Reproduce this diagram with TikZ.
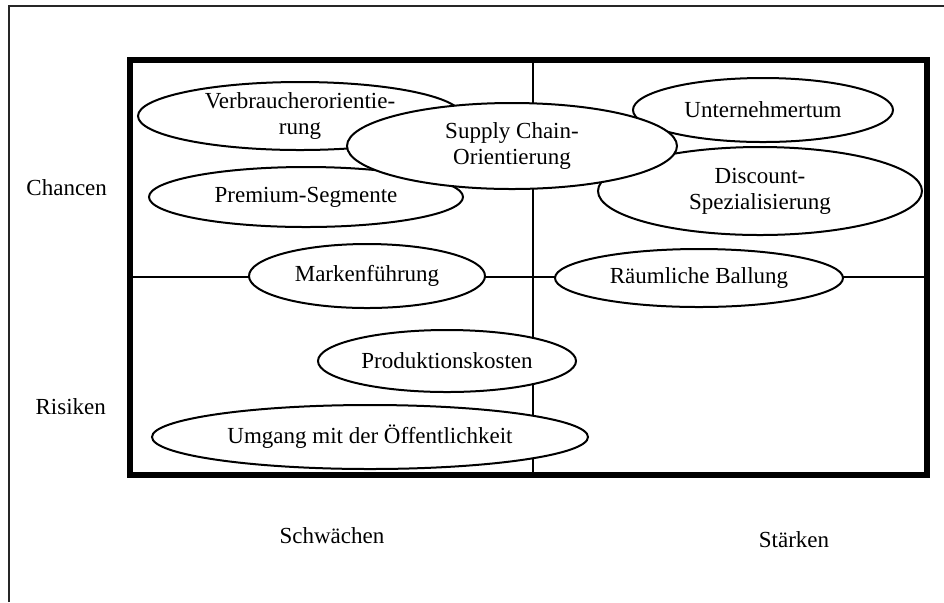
\documentclass[tikz,border=0pt]{standalone}
\usepackage{fontspec}
\setmainfont{Liberation Serif}
\usetikzlibrary{positioning,shapes.geometric}

\begin{document}
\begin{tikzpicture}[x=0.5pt, y=-0.5pt, font=\fontsize{11.5}{13}\selectfont,
		feld/.style={draw, line width=1pt, fill=white, ellipse, inner sep=0pt, align=center},
		achse/.style={line width=0.75pt}]
		\useasboundingbox (0,0) rectangle (944,602);
		\draw[line width=1pt, black!85] (9,602) -- (9,6) -- (944,6);
		\coordinate (tl) at (130,60);
		\coordinate (br) at (927,475);
		\coordinate (ml) at (130,277);
		\coordinate (mr) at (927,277);
		\coordinate (mt) at (533,60);
		\coordinate (mb) at (533,475);
		\draw[achse] (ml) -- (mr);
		\draw[achse] (mt) -- (mb);
		\draw[line width=3pt] (tl) rectangle (br);
		\node[feld, minimum width=162pt, minimum height=34pt] (verb) at (300,116) {Verbraucherorientie-\\rung};
		\node[feld, minimum width=157pt, minimum height=30pt] (prem) at (306,197) {Premium-Segmente};
		\node[feld, minimum width=130pt, minimum height=32pt] (unter) at (763,110) {Unternehmertum};
		\node[feld, minimum width=162pt, minimum height=44pt] (disc) at (760,191) {Discount-\\Spezialisierung};
		\node[feld, minimum width=165pt, minimum height=43pt] (supply) at (512,146) {Supply Chain-\\Orientierung};
		\node[feld, minimum width=118pt, minimum height=32pt] (marke) at (367,276) {Markenführung};
		\node[feld, minimum width=144pt, minimum height=29pt] (raum) at (699,278) {Räumliche Ballung};
		\node[feld, minimum width=129pt, minimum height=31pt] (prod) at (447,361) {Produktionskosten};
		\node[feld, minimum width=218pt, minimum height=32pt] (umgang) at (370,437) {Umgang mit der Öffentlichkeit};
		\node[anchor=east] (chancen) at (114,188) {Chancen};
		\node[anchor=east] (risiken) at (113,407) {Risiken};
		\node (schwaechen) at (332,536) {Schwächen};
		\node (staerken) at (794,540) {Stärken};
	\end{tikzpicture}
\end{document}
